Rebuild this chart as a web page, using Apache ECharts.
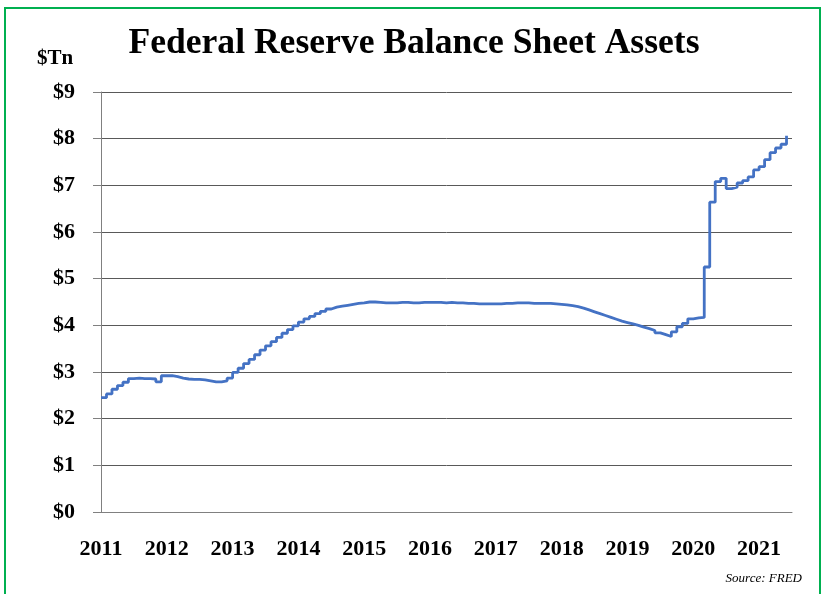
<!DOCTYPE html>
<html>
<head>
<meta charset="utf-8">
<script src="https://cdn.jsdelivr.net/npm/echarts@6/dist/echarts.min.js"></script>
<style>
html,body{margin:0;padding:0;background:#fff;}
#chart{width:824px;height:594px;}
</style>
</head>
<body>
<div id="chart"></div>
<script>
// Monthly Fed balance sheet assets ($Tn), Jan 2011 .. Jun 2021
const startYear = 2011;
const v2011 = [2.45, 2.53, 2.63, 2.71, 2.78, 2.86, 2.87, 2.86, 2.86, 2.85, 2.79, 2.92];
const v2012 = [2.92, 2.90, 2.87, 2.85, 2.84, 2.84, 2.83, 2.81, 2.79, 2.79, 2.81, 2.87];
const v2013 = [2.99, 3.08, 3.18, 3.27, 3.37, 3.47, 3.56, 3.65, 3.74, 3.83, 3.91, 3.99];
const v2014 = [4.07, 4.14, 4.19, 4.25, 4.30, 4.35, 4.39, 4.41, 4.43, 4.45, 4.47, 4.48];
const v2015 = [4.50, 4.50, 4.49, 4.48, 4.48, 4.48, 4.49, 4.49, 4.48, 4.48, 4.49, 4.49];
const v2016 = [4.49, 4.49, 4.48, 4.49, 4.48, 4.48, 4.47, 4.47, 4.46, 4.46, 4.46, 4.46];
const v2017 = [4.46, 4.47, 4.47, 4.48, 4.48, 4.48, 4.47, 4.47, 4.47, 4.47, 4.46, 4.45];
const v2018 = [4.44, 4.42, 4.40, 4.37, 4.33, 4.29, 4.25, 4.21, 4.17, 4.13, 4.09, 4.06];
const v2019 = [4.03, 4.00, 3.96, 3.93, 3.89, 3.84, 3.80, 3.76, 3.86, 3.97, 4.04, 4.14];
const v2020 = [4.16, 4.17, 5.25, 6.64, 7.08, 7.15, 6.93, 6.96, 7.05, 7.10, 7.18, 7.33];
const v2021 = [7.40, 7.55, 7.70, 7.80, 7.88, 8.06];
const yearLabels = ['2011','2012','2013','2014','2015','2016','2017','2018','2019','2020','2021'];
const yTicks = [0,1,2,3,4,5,6,7,8,9];

const monthly = [].concat(v2011, v2012, v2013, v2014, v2015, v2016, v2017, v2018, v2019, v2020, v2021);
const seriesData = monthly.map((v, i) => [startYear + i / 12, v]);

const chart = echarts.init(document.getElementById('chart'), null, {renderer: 'canvas'});
const serif = '"Liberation Serif", "DejaVu Serif", serif';
chart.setOption({
  animation: false,
  backgroundColor: '#ffffff',
  title: {
    text: 'Federal Reserve Balance Sheet Assets',
    left: 409, top: 21, textAlign: 'center',
    textStyle: {fontFamily: serif, fontWeight: 'bold', fontSize: 35.6, color: '#000'}
  },
  graphic: [
    {type: 'rect', shape: {x: 5, y: 8, width: 815, height: 620},
     style: {fill: 'none', stroke: '#00B050', lineWidth: 2}, silent: true},
    {type: 'text', left: 37, top: 48,
     style: {text: '$Tn', font: 'bold 21px ' + serif, fill: '#000'}},
    {type: 'text', right: 22, top: 572,
     style: {text: 'Source: FRED', font: 'italic 13px ' + serif, fill: '#000'}}
  ],
  grid: {left: 101, right: 32, top: 92, bottom: 82, containLabel: false},
  xAxis: {
    type: 'value', min: startYear, max: startYear + 10.5, interval: 1,
    axisLine: {show: true, lineStyle: {color: '#808080', width: 1}},
    axisTick: {show: false},
    splitLine: {show: false},
    axisLabel: {
      margin: 26, fontFamily: serif, fontWeight: 'bold', fontSize: 22, color: '#000',
      formatter: function (v) {
        const r = Math.round(v);
        if (Math.abs(v - r) > 1e-6) return '';
        const idx = r - startYear;
        return yearLabels[idx] || '';
      }
    }
  },
  yAxis: {
    type: 'value', min: yTicks[0], max: yTicks[yTicks.length - 1], interval: 1,
    axisLine: {show: true, lineStyle: {color: '#808080', width: 1}},
    axisTick: {show: true, inside: false, length: 8, lineStyle: {color: '#808080'}},
    splitLine: {show: true, lineStyle: {color: '#595959', width: 1}},
    axisLabel: {
      margin: 26, fontFamily: serif, fontWeight: 'bold', fontSize: 22, color: '#000',
      formatter: function (v) { return '$' + v; }
    }
  },
  series: [{
    type: 'line', data: seriesData, step: 'end', symbol: 'none',
    lineStyle: {color: '#4472C4', width: 2.8}
  }]
});
</script>
</body>
</html>
